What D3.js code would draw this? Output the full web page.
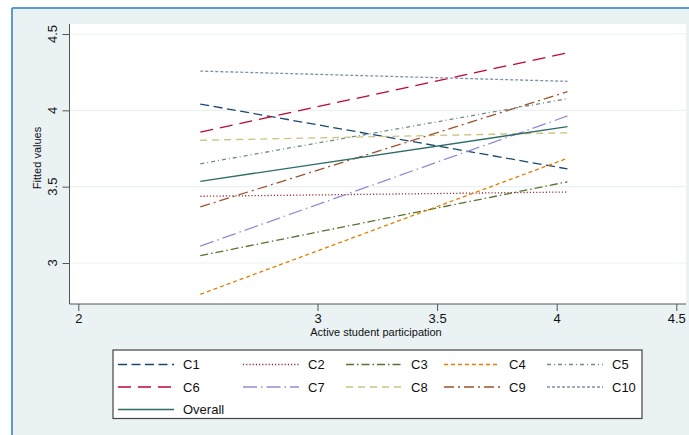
<!DOCTYPE html>
<html><head><meta charset="utf-8">
<script src="https://cdn.jsdelivr.net/npm/d3@7"></script>
<style>body{margin:0;background:#fff;}svg{display:block;font-family:"Liberation Sans",Arial,sans-serif;}</style>
</head><body>
<svg id="chart" width="689" height="435"></svg>
<script>
const series = ["C1","C2","C3","C4","C5","C6","C7","C8","C9","C10","Overall"];
const xRange = [2.51, 4.045];
const startValues = [4.041, 3.437, 3.048, 2.795, 3.650, 3.858, 3.111, 3.804, 3.367, 4.257, 3.535];
const endValues   = [3.616, 3.465, 3.532, 3.686, 4.076, 4.377, 3.963, 3.853, 4.122, 4.190, 3.893];
const xTicks = [2, 3, 3.5, 4, 4.5];
const yTicks = [3, 3.5, 4, 4.5];
const colors = ["#1a476f","#90353b","#55752f","#e37e00","#6e8e84","#c10534","#938dd2","#cac27e","#a0522d","#7b92a8","#2d6d66"];
const dashes = ["9,4.5","1.2,2","8,3,1.5,3","4,3","4,3,1,3","13,7","14,4,1.5,4","7,5","10,4,2,4","3,2",null];

const svg = d3.select("#chart");
svg.append("rect").attr("x",12).attr("y",8).attr("width",689-12).attr("height",435-8).attr("fill","#eaf2f3");
svg.append("line").attr("x1",12).attr("x2",12).attr("y1",8).attr("y2",435).attr("stroke","#5b9bd5").attr("stroke-width",2);
svg.append("line").attr("x1",12).attr("x2",689).attr("y1",8).attr("y2",8).attr("stroke","#5b9bd5").attr("stroke-width",2);

const x = d3.scaleLinear().domain([2,4.5]).range([78.3,676.3]);
const y = d3.scaleLinear().domain([3,4.5]).range([263,34]);
const L=69.5, R=686, T=24, B=304;
svg.append("rect").attr("x",L).attr("y",T).attr("width",R-L).attr("height",B-T).attr("fill","#fff").attr("rx",2);
svg.append("g").selectAll("line").data(yTicks).join("line")
  .attr("x1",L).attr("x2",R).attr("y1",d=>y(d)).attr("y2",d=>y(d))
  .attr("stroke","#eaf2f3").attr("stroke-width",1.2);

const yAxis = d3.axisLeft(y).tickValues(yTicks).tickFormat(d3.format("")).tickSize(7);
const gy = svg.append("g").attr("transform",`translate(${L},0)`).call(yAxis);
gy.select(".domain").attr("d",`M0,${T}V${B}`).attr("stroke","#555");
gy.selectAll(".tick line").attr("stroke","#555");
gy.selectAll(".tick text").remove();
svg.append("g").selectAll("text").data(yTicks).join("text")
  .attr("transform",d=>`translate(57,${y(d)}) rotate(-90)`)
  .attr("text-anchor","middle").attr("font-size",13).attr("fill","#111")
  .text(d3.format(""));

const xAxis = d3.axisBottom(x).tickValues(xTicks).tickFormat(d3.format("")).tickSize(7).tickPadding(3);
const gx = svg.append("g").attr("transform",`translate(0,${B})`).call(xAxis);
gx.select(".domain").attr("d",`M${L},0H${R}`).attr("stroke","#555");
gx.selectAll(".tick line").attr("stroke","#555");
gx.selectAll(".tick text").attr("font-size",13).attr("fill","#111");

svg.append("text").attr("x",376).attr("y",335.5).attr("text-anchor","middle").attr("font-size",11).attr("fill","#111").text("Active student participation");
svg.append("text").attr("transform","translate(41,158) rotate(-90)").attr("text-anchor","middle").attr("font-size",11).attr("fill","#111").text("Fitted values");

const line = d3.line().x(d=>x(d[0])).y(d=>y(d[1]));
series.forEach((s,i)=>{
  svg.append("path").datum([[xRange[0],startValues[i]],[xRange[1],endValues[i]]])
    .attr("d",line).attr("fill","none").attr("stroke",colors[i]).attr("stroke-width",1.3)
    .attr("stroke-dasharray",dashes[i]);
});

svg.append("rect").attr("x",113).attr("y",350).attr("width",529).attr("height",68.5).attr("fill","#fff").attr("stroke","#444").attr("stroke-width",1.2);
const labelX = [183,308,411,509,612];
const rowY = [364.5,387,409.5];
series.forEach((s,i)=>{
  const c = i%5, r = Math.floor(i/5);
  const lx = labelX[c], ly = rowY[r];
  svg.append("line").attr("x1",lx-65).attr("x2",lx-9).attr("y1",ly).attr("y2",ly)
    .attr("stroke",colors[i]).attr("stroke-width",1.3).attr("stroke-dasharray",dashes[i]);
  svg.append("text").attr("x",lx).attr("y",ly+4.5).attr("font-size",13).attr("fill","#111").text(s);
});
</script>
</body></html>
